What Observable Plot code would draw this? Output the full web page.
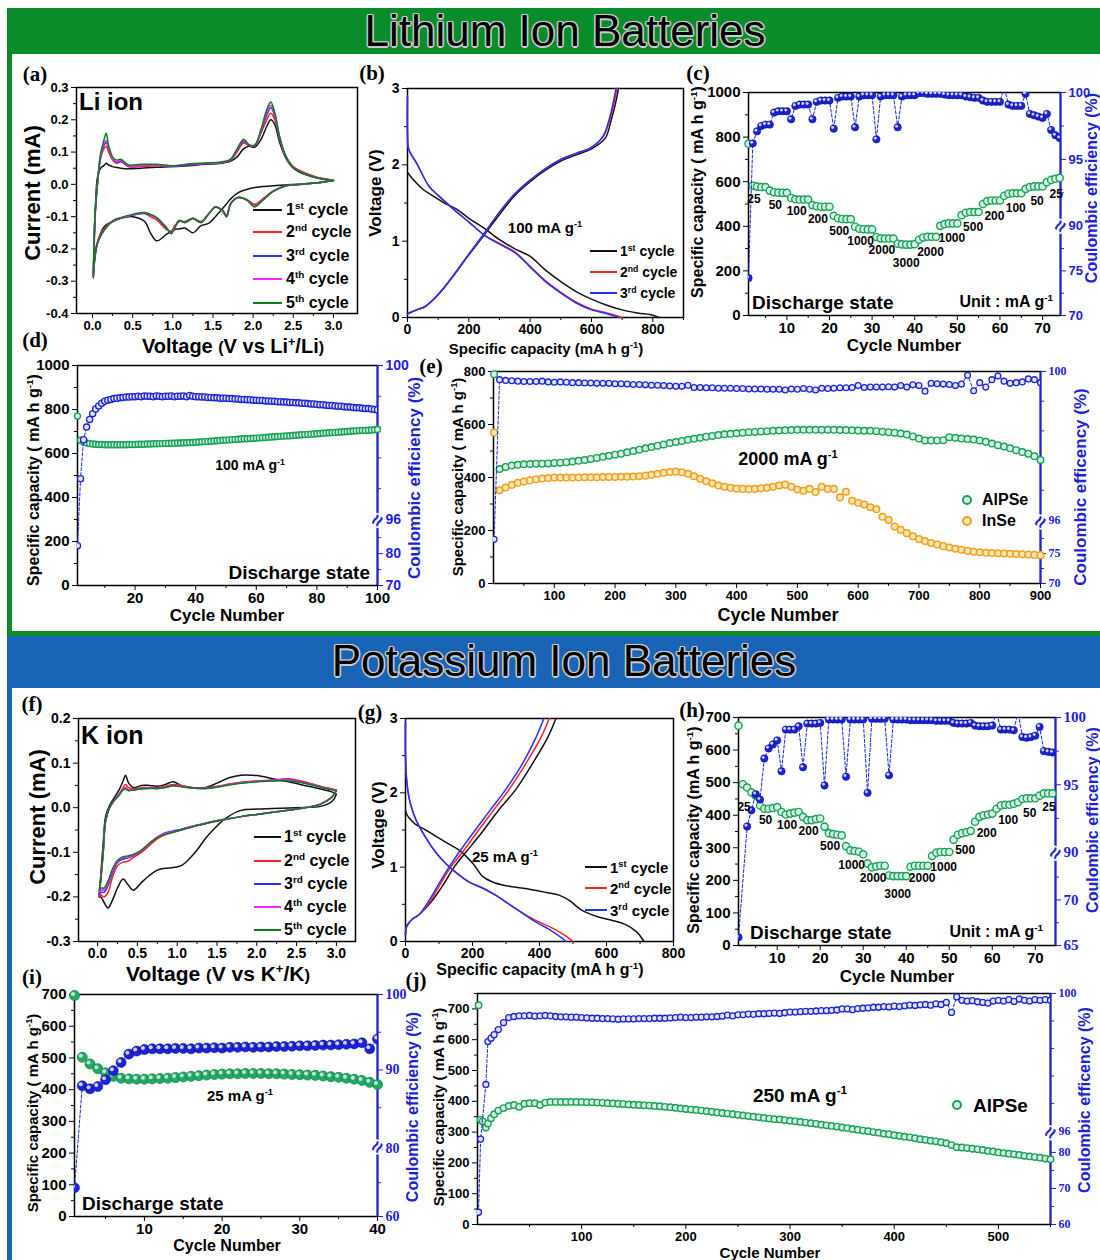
<!DOCTYPE html>
<html><head><meta charset="utf-8">
<script src="https://cdn.jsdelivr.net/npm/d3@7"></script>
<script src="https://cdn.jsdelivr.net/npm/@observablehq/plot@0.6"></script>
<style>
html,body{margin:0;padding:0;background:#fff;}
#page{position:relative;width:1100px;height:1260px;overflow:hidden;background:#fff;}
sup{font-size:0.62em;line-height:0;vertical-align:0.6em;}
</style></head><body><div id="page"></div>
<script>
// ---------------- DATA ----------------
// (a) Li CV
const aDnV=[3.0,2.8,2.6,2.4,2.25,2.12,2.02,1.93,1.82,1.72,1.67,1.62,1.53,1.45,1.35,1.25,1.15,1.08,1.02,0.98,0.92,0.8,0.72,0.65,0.5,0.35,0.25,0.15,0.08,0.04,0.01];
const aDn1=[0.012,0.005,0.001,-0.002,-0.004,-0.007,-0.01,-0.015,-0.025,-0.045,-0.06,-0.075,-0.1,-0.12,-0.128,-0.15,-0.135,-0.138,-0.14,-0.145,-0.155,-0.175,-0.15,-0.115,-0.1,-0.105,-0.115,-0.13,-0.165,-0.21,-0.28];
const aDn2=[0.012,0.005,0.0,-0.005,-0.02,-0.045,-0.062,-0.048,-0.04,-0.06,-0.095,-0.08,-0.07,-0.09,-0.115,-0.105,-0.115,-0.115,-0.13,-0.145,-0.14,-0.11,-0.1,-0.09,-0.095,-0.105,-0.115,-0.135,-0.165,-0.2,-0.29];
const aDn3=[0.012,0.005,0.0,-0.005,-0.022,-0.048,-0.068,-0.05,-0.04,-0.06,-0.1,-0.083,-0.07,-0.09,-0.118,-0.105,-0.118,-0.112,-0.135,-0.152,-0.135,-0.105,-0.095,-0.09,-0.095,-0.105,-0.115,-0.14,-0.17,-0.2,-0.285];
const aDn4=[0.012,0.005,0.0,-0.005,-0.022,-0.048,-0.068,-0.05,-0.041,-0.06,-0.1,-0.083,-0.07,-0.09,-0.118,-0.106,-0.118,-0.112,-0.136,-0.152,-0.134,-0.104,-0.094,-0.088,-0.094,-0.104,-0.114,-0.14,-0.17,-0.2,-0.285];
const aDn5=[0.012,0.005,0.0,-0.005,-0.022,-0.049,-0.07,-0.05,-0.041,-0.06,-0.1,-0.082,-0.07,-0.09,-0.118,-0.106,-0.118,-0.112,-0.137,-0.153,-0.134,-0.103,-0.093,-0.087,-0.093,-0.103,-0.113,-0.14,-0.17,-0.2,-0.285];
const aUpV=[0.01,0.03,0.06,0.1,0.14,0.17,0.2,0.25,0.3,0.35,0.45,0.6,0.8,1.0,1.2,1.4,1.6,1.72,1.8,1.88,1.95,2.02,2.1,2.17,2.22,2.27,2.33,2.4,2.5,2.65,2.8,3.0];
const aUp1=[-0.28,-0.12,0.02,0.05,0.058,0.065,0.06,0.055,0.052,0.05,0.048,0.05,0.053,0.055,0.058,0.062,0.065,0.072,0.085,0.11,0.118,0.115,0.14,0.18,0.2,0.185,0.13,0.085,0.05,0.03,0.02,0.013];
const aUp2=[-0.29,-0.1,0.0,0.08,0.11,0.118,0.1,0.075,0.065,0.07,0.055,0.055,0.058,0.056,0.06,0.064,0.067,0.075,0.1,0.128,0.12,0.12,0.16,0.2,0.22,0.2,0.14,0.09,0.055,0.035,0.022,0.013];
const aUp3=[-0.285,-0.1,0.0,0.085,0.12,0.13,0.11,0.078,0.068,0.072,0.055,0.058,0.06,0.055,0.06,0.064,0.067,0.076,0.105,0.133,0.122,0.12,0.165,0.215,0.238,0.21,0.145,0.09,0.052,0.032,0.02,0.013];
const aUp4=[-0.285,-0.1,0.0,0.09,0.125,0.135,0.112,0.08,0.07,0.075,0.057,0.058,0.06,0.057,0.062,0.065,0.068,0.077,0.107,0.136,0.122,0.12,0.168,0.225,0.245,0.215,0.145,0.09,0.052,0.032,0.02,0.013];
const aUp5=[-0.285,-0.1,0.0,0.095,0.135,0.158,0.12,0.085,0.075,0.078,0.06,0.062,0.062,0.058,0.063,0.066,0.069,0.078,0.11,0.14,0.122,0.122,0.172,0.232,0.255,0.222,0.148,0.092,0.052,0.032,0.02,0.013];
// (b) Li charge/discharge
const bDis1X=[0,20,50,80,120,160,200,250,300,350,400,450,500,550,600,650,700,750,800,820];
const bDis1Y=[1.9,1.8,1.68,1.6,1.5,1.42,1.3,1.17,1.02,0.9,0.8,0.62,0.47,0.34,0.24,0.16,0.1,0.06,0.03,0];
const bDis2X=[0,0,3,10,30,70,100,150,200,250,300,350,400,450,500,550,600,650,700];
const bDis2Y=[2.9,2.4,2.22,2.15,2.02,1.72,1.6,1.42,1.25,1.08,0.97,0.86,0.67,0.48,0.33,0.2,0.11,0.06,0.0];
const bDis3X=[0,0,3,10,30,70,100,150,200,250,300,350,400,450,500,550,600,650,690];
const bDis3Y=[2.9,2.4,2.22,2.15,2.02,1.72,1.6,1.42,1.25,1.08,0.96,0.85,0.66,0.47,0.32,0.19,0.1,0.05,0.0];
const bChg1X=[0,30,60,100,150,200,250,300,350,400,450,500,550,600,645,665,678,688];
const bChg1Y=[0.05,0.1,0.15,0.3,0.55,0.82,1.08,1.35,1.6,1.78,1.93,2.05,2.13,2.21,2.35,2.6,2.8,3.0];
const bChg2X=[0,30,60,100,150,200,250,300,350,400,450,500,550,600,640,660,673,683];
const bChg2Y=[0.05,0.1,0.15,0.3,0.55,0.83,1.1,1.38,1.62,1.8,1.95,2.07,2.15,2.23,2.38,2.6,2.8,3.0];
const bChg3X=[0,30,60,100,150,200,250,300,350,400,450,500,550,600,638,658,670,680];
const bChg3Y=[0.05,0.1,0.15,0.3,0.55,0.83,1.1,1.38,1.62,1.8,1.95,2.07,2.15,2.23,2.38,2.6,2.8,3.0];
// (c) Li rate
const cCap=[770,582,578,576,576, 560,553,551,550,550, 527,521,520,520,520, 495,490,488,488,488, 447,436,433,432,432, 398,389,387,386,386, 352,346,345,345,345, 322,319,318,318,320, 340,350,353,353,353, 402,410,413,413,413, 450,461,464,464,464, 500,513,516,516,516, 537,546,548,548,548, 568,576,579,579,579, 598,608,613,617];
const cCE=[74.2,96.2,97.1,97.5,97.6, 97.6,98.5,98.6,98.6,98.6, 98.0,99.0,99.1,99.1,99.1, 98.0,99.3,99.4,99.4,99.4, 97.3,99.6,99.7,99.7,99.7, 97.4,99.7,99.8,99.8,99.8, 96.5,99.7,99.8,99.8,99.8, 97.4,99.7,99.8,99.8,99.8, 99.95,99.95,99.9,99.9,99.9, 99.9,99.85,99.8,99.8,99.8, 99.8,99.7,99.65,99.6,99.6, 99.4,99.3,99.3,99.3,99.3, 100.4,99.1,99.0,99.0,99.0, 99.9,98.4,98.3,98.2,98.1, 98.4,97.2,96.8,96.6];
const rateLabels=["25","50","100","200","500","1000","2000","3000","2000","1000","500","200","100","50","25"];
// (d) Li 100 mA/g cycling
const dCap=[770,660,652,648,645,643,642,641,641,640, 640,640,640,640,640,640,640,641,641,641, 642,642,642,643,643,644,644,645,645,646, 646,647,647,648,648,649,649,650,650,651, 652,653,654,655,656,657,658,659,660,661, 662,663,664,665,666,667,667,668,669,670, 671,672,673,674,675,676,677,678,679,680, 681,682,683,684,685,686,687,688,689,690, 691,692,693,694,695,696,697,698,699,700, 701,702,703,704,705,705,706,707,708,709];
const dCE=[82.5,97.06,98.07,98.4,98.6,98.75,98.87,98.95,99.02,99.07, 99.1,99.12,99.14,99.15,99.16,99.17,99.18,99.18,99.19,99.19, 99.2,99.19,99.21,99.2,99.2,99.19,99.21,99.2,99.19,99.2, 99.2,99.21,99.19,99.2,99.2,99.21,99.19,99.22,99.2,99.19, 99.19,99.18,99.18,99.17,99.17,99.16,99.16,99.15,99.15,99.15, 99.14,99.14,99.13,99.13,99.12,99.12,99.11,99.11,99.1,99.1, 99.09,99.09,99.08,99.08,99.07,99.07,99.06,99.06,99.05,99.05, 99.04,99.04,99.03,99.03,99.02,99.02,99.01,99.0,99.0,98.99, 98.98,98.98,98.97,98.96,98.96,98.95,98.94,98.94,98.93,98.92, 98.92,98.91,98.9,98.9,98.89,98.88,98.88,98.87,98.86,98.85];
// (e) Li 2000 mA/g long cycling
const eCyc=[1,10,20,30,40,50,60,70,80,90,100,110,120,130,140,150,160,170,180,190,200,210,220,230,240,250,260,270,280,290,300,310,320,330,340,350,360,370,380,390,400,410,420,430,440,450,460,470,480,490,500,510,520,530,540,550,560,570,580,590,600,610,620,630,640,650,660,670,680,690,700,710,720,730,740,750,760,770,780,790,800,810,820,830,840,850,860,870,880,890,900];
const eAlPSe=[790, 432,440,445,448,450,451,452,452,453,455, 456,458,460,463,466,470,474,478,482,486, 490,495,500,505,510,515,520,525,530,534, 538,542,546,550,554,557,560,563,565,567, 569,571,572,574,575,576,577,578,579,580, 580,580,580,580,580,580,579,579,578,577, 576,576,575,573,571,569,566,562,555,547, 540,540,540,541,552,550,547,545,543,540, 535,528,522,517,510,503,496,490,480,466];
const eInSe=[570, 352,362,372,380,385,389,393,396,398,400, 400,400,400,400,401,401,401,402,402,402, 403,403,404,405,407,410,414,418,421,422, 420,414,405,395,386,378,370,365,361,358, 357,356,357,359,361,365,370,373,365,355, 350,357,345,365,357,357,325,346,312,305, 298,288,280,252,240,215,203,190,178,168, 160,153,147,141,136,131,127,123,120,118, 116,115,114,113,112,111,110,109,108,107];
const eCE=[77.4, 99.78,99.76,99.75,99.74,99.73,99.73,99.73,99.74,99.72,99.71, 99.72,99.71,99.7,99.7,99.69,99.69,99.68,99.68,99.68,99.67, 99.67,99.66,99.65,99.65,99.64,99.63,99.63,99.62,99.61,99.6, 99.6,99.63,99.57,99.57,99.56,99.56,99.55,99.55,99.55,99.54, 99.54,99.53,99.53,99.53,99.52,99.52,99.52,99.5,99.53,99.52, 99.54,99.52,99.5,99.55,99.54,99.55,99.56,99.56,99.57,99.62, 99.57,99.58,99.58,99.58,99.59,99.58,99.62,99.58,99.64,99.62, 99.47,99.68,99.67,99.66,99.65,99.62,99.66,99.9,99.48,99.7, 99.58,99.78,99.88,99.74,99.68,99.7,99.72,99.8,99.78,99.7];
// (f) K CV
const fDnV=[3.0,2.95,2.8,2.5,2.2,2.0,1.8,1.6,1.45,1.35,1.25,1.15,1.05,0.95,0.85,0.75,0.65,0.55,0.45,0.38,0.32,0.25,0.18,0.13,0.08,0.04,0.02];
const fDn1=[0.03,0.015,0.003,0.0,-0.002,-0.003,-0.006,-0.025,-0.05,-0.07,-0.095,-0.115,-0.13,-0.134,-0.136,-0.14,-0.152,-0.168,-0.185,-0.172,-0.16,-0.18,-0.21,-0.225,-0.212,-0.2,-0.2];
const fDn2=[0.04,0.025,0.008,-0.003,-0.01,-0.015,-0.02,-0.027,-0.032,-0.036,-0.04,-0.045,-0.05,-0.055,-0.06,-0.07,-0.085,-0.1,-0.112,-0.12,-0.122,-0.13,-0.16,-0.19,-0.2,-0.195,-0.2];
const fDn3=[0.04,0.025,0.008,-0.003,-0.01,-0.015,-0.02,-0.026,-0.031,-0.035,-0.039,-0.043,-0.048,-0.052,-0.056,-0.066,-0.08,-0.097,-0.108,-0.113,-0.115,-0.123,-0.15,-0.175,-0.19,-0.19,-0.195];
const fDn4=[0.04,0.025,0.008,-0.003,-0.01,-0.015,-0.02,-0.026,-0.031,-0.036,-0.04,-0.044,-0.05,-0.054,-0.058,-0.066,-0.08,-0.096,-0.106,-0.11,-0.112,-0.12,-0.145,-0.17,-0.185,-0.185,-0.19];
const fDn5=[0.038,0.025,0.008,-0.003,-0.01,-0.015,-0.02,-0.026,-0.031,-0.036,-0.04,-0.045,-0.05,-0.055,-0.06,-0.067,-0.08,-0.095,-0.105,-0.108,-0.11,-0.118,-0.14,-0.165,-0.18,-0.18,-0.185];
const fUpV=[0.02,0.04,0.07,0.1,0.15,0.2,0.27,0.32,0.35,0.39,0.45,0.55,0.65,0.75,0.85,0.95,1.05,1.2,1.35,1.5,1.65,1.8,2.0,2.2,2.4,2.6,2.8,2.95,3.0];
const fUp1=[-0.2,-0.15,-0.08,-0.02,0.005,0.02,0.04,0.06,0.073,0.055,0.045,0.05,0.05,0.048,0.052,0.058,0.05,0.045,0.045,0.055,0.067,0.073,0.072,0.065,0.058,0.05,0.042,0.035,0.03];
const fUp2=[-0.2,-0.16,-0.1,-0.03,0.0,0.015,0.03,0.045,0.052,0.045,0.042,0.045,0.045,0.045,0.048,0.052,0.05,0.045,0.044,0.048,0.053,0.057,0.06,0.062,0.065,0.058,0.048,0.042,0.04];
const fUp3=[-0.195,-0.16,-0.1,-0.03,0.0,0.015,0.03,0.042,0.045,0.04,0.04,0.043,0.044,0.043,0.046,0.05,0.048,0.044,0.043,0.047,0.052,0.056,0.059,0.061,0.063,0.056,0.047,0.041,0.04];
const fUp4=[-0.19,-0.16,-0.1,-0.03,0.0,0.014,0.03,0.042,0.045,0.04,0.04,0.043,0.044,0.043,0.046,0.05,0.048,0.044,0.043,0.047,0.052,0.056,0.059,0.061,0.062,0.056,0.047,0.041,0.04];
const fUp5=[-0.185,-0.16,-0.1,-0.03,0.0,0.014,0.028,0.04,0.042,0.038,0.04,0.042,0.043,0.043,0.045,0.049,0.047,0.044,0.043,0.046,0.051,0.055,0.058,0.06,0.06,0.055,0.046,0.04,0.038];
// (g) K charge/discharge
const gDis1X=[0,5,15,29,60,96,130,163,203,229,260,300,363,420,460,490,523,576,620,656,690,712];
const gDis1Y=[1.76,1.7,1.64,1.58,1.5,1.4,1.31,1.22,1.04,0.88,0.8,0.75,0.71,0.66,0.62,0.55,0.43,0.33,0.28,0.23,0.13,0.0];
const gDis2X=[0,0,3,8,15,30,60,90,120,150,190,230,270,310,350,390,430,470,500];
const gDis2Y=[2.95,2.5,2.2,2.0,1.85,1.65,1.4,1.2,1.05,0.93,0.8,0.72,0.62,0.5,0.38,0.28,0.2,0.1,0.0];
const gDis3X=[0,0,3,8,15,30,60,90,120,150,190,230,270,310,350,390,430,460,480];
const gDis3Y=[2.95,2.5,2.2,2.0,1.85,1.65,1.4,1.2,1.05,0.93,0.8,0.72,0.62,0.5,0.38,0.26,0.16,0.07,0.0];
const gChg1X=[0,3,10,20,40,80,115,145,180,225,275,330,380,425,449];
const gChg2X=[0,3,10,20,40,75,105,135,170,210,260,310,360,405,429];
const gChg3X=[0,3,10,20,40,70,100,130,160,200,250,300,350,390,413];
const gChgY=[0.1,0.2,0.25,0.3,0.36,0.55,0.78,1.0,1.2,1.45,1.75,2.05,2.4,2.75,3.0];
// (h) K rate
const hCap=[675,495,485,470,460, 430,420,420,422,425, 410,402,405,408,410, 395,385,385,388,390, 365,345,342,340,338, 305,292,290,288,280, 252,240,243,245,245, 215,213,213,213,213, 242,245,245,245,245, 275,285,287,287,287, 325,340,345,348,352, 380,395,400,402,405, 420,430,432,432,435, 440,450,452,452,452, 460,467,467,467];
const hCE=[65.9,null,91.9,93.1,94.3, 93.9,96.95,97.7,98.0,98.3, 96.0,99.1,99.1,99.1,99.35, 96.3,99.55,99.55,99.55,99.6, 94.95,99.85,99.85,99.85,99.85, 95.6,99.85,99.85,99.85,99.85, 94.4,99.9,99.9,99.9,99.9, 95.7,99.85,99.85,99.85,99.85, 99.8,99.8,99.8,99.8,99.8, 99.8,99.75,99.75,99.75,99.75, 99.6,99.55,99.55,99.55,99.6, 99.4,99.35,99.35,99.35,99.4, 100.4,99.1,99.1,99.1,99.05, 100.4,98.55,98.5,98.55,98.65, 99.3,97.5,97.45,97.4];
// (i) K 25 mA/g cycling
const iCap=[697,502,481,466,453,442,436,434,433,433, 434,435,436,438,440,442,444,446,448,449, 450,450,451,451,451,450,450,449,448,447, 446,445,443,441,439,436,433,429,423,416];
const iCE=[68.5,87.9,87.5,87.8,88.7,89.9,91.0,92.1,92.5,92.7, 92.8,92.8,92.8,92.85,92.85,92.8,92.9,92.9,92.95,92.9, 93.0,93.0,93.05,93.0,93.05,93.05,93.1,93.1,93.15,93.2, 93.2,93.25,93.3,93.3,93.35,93.4,93.45,93.6,92.8,94.1];
// (j) K 250 mA/g long cycling
const jCyc=[1,3,5,8,10,13,16,20,25,30,35,40,45,50,55,60,65,70,75,80,85,90,95,100, 105,110,115,120,125,130,135,140,145,150, 155,160,165,170,175,180,185,190,195,200, 205,210,215,220,225,230,235,240,245,250, 255,260,265,270,275,280,285,290,295,300, 305,310,315,320,325,330,335,340,345,350, 355,360,365,370,375,380,385,390,395,400, 405,410,415,420,425,430,435,440,445,450, 455,460,465,470,475,480,485,490,495,500, 505,510,515,520,525,530,535,540,545,550];
const jCap=[712,340,335,315,328,345,358,370,378,385,388,382,392,394,394,388,396,398,398,398,398,398,398,398, 397,397,396,395,394,393,392,391,390,389, 388,387,386,385,384,382,381,379,377,375, 373,372,370,368,366,364,362,360,358,356, 354,352,350,348,346,344,342,341,339,337, 335,333,331,329,327,324,322,320,318,315, 313,310,308,305,303,300,298,295,293,290, 288,285,283,280,277,275,272,270,267,264, 258,251,250,248,246,244,242,239,237,234, 232,230,228,226,223,221,219,217,214,212];
const jCE=[63.4,83.7,null,97.35,98.6,98.7,98.8,98.95,99.15,99.3,99.33,99.35,99.35,99.36,99.34,99.35,99.36,99.35,99.33,99.32,99.32,99.31,99.31,99.3, 99.29,99.28,99.28,99.27,99.27,99.26,99.25,99.26,99.26,99.26, 99.27,99.27,99.27,99.28,99.28,99.28,99.29,99.3,99.31,99.3, 99.3,99.31,99.31,99.32,99.32,99.33,99.34,99.37,99.35,99.38, 99.38,99.4,99.39,99.41,99.41,99.42,99.43,99.42,99.44,99.46, 99.46,99.47,99.48,99.48,99.49,99.5,99.5,99.51,99.52,99.55, 99.55,99.53,99.56,99.57,99.58,99.6,99.6,99.62,99.61,99.63, 99.62,99.64,99.66,99.65,99.67,99.68,99.66,99.7,99.68,99.74, 99.45,99.9,99.8,99.78,99.79,99.76,99.74,99.72,99.78,99.8, 99.78,99.82,99.77,99.84,99.8,99.78,99.82,99.8,99.82,99.8];
// tick values
const cvXT=[0,0.5,1,1.5,2,2.5,3], cvXM=[0.25,0.75,1.25,1.75,2.25,2.75];
const aYT=[-0.4,-0.3,-0.2,-0.1,0,0.1,0.2,0.3], aYM=[-0.35,-0.25,-0.15,-0.05,0.05,0.15,0.25];
const fYT=[-0.3,-0.2,-0.1,0,0.1,0.2], fYM=[-0.25,-0.15,-0.05,0.05,0.15];
const cycleLabels=["1<sup>st</sup> cycle","2<sup>nd</sup> cycle","3<sup>rd</sup> cycle","4<sup>th</sup> cycle","5<sup>th</sup> cycle"];

// ---------------- HELPERS ----------------
const page=document.getElementById("page");
const SANS='"Liberation Sans", Arial, Helvetica, sans-serif';
const NARROW='"Liberation Sans Narrow", "Arial Narrow", "Liberation Sans", Arial, sans-serif';
const SERIF='"Liberation Serif", "Times New Roman", serif';
const BLUE="#1d22d8", GS="#16a158", GF="#d8f3e3", ORS="#f0a11c", ORF="#fde6b8";
const LIGREEN="#098c2a", KBLUE="#1a64b8";
const cvColors=["#111111","#ff2020","#2233ff","#ff22ff","#0a7d14"];

function box(x,y,w,h,css){const d=document.createElement("div");d.style.cssText=`position:absolute;left:${x}px;top:${y}px;width:${w}px;height:${h}px;`+(css||"");page.appendChild(d);return d;}
function txt(html,x,y,o={}){const d=document.createElement("div");const tr=o.anchor==="start"?"translate(0,-50%)":o.anchor==="end"?"translate(-100%,-50%)":"translate(-50%,-50%)";d.style.cssText=`position:absolute;left:${x}px;top:${y}px;white-space:nowrap;line-height:1;font-family:${o.font||SANS};font-size:${o.size||16}px;font-weight:${o.weight||"bold"};color:${o.color||"#000"};transform:${tr}${o.rot?` rotate(${o.rot}deg)`:""};`+(o.css||"");d.innerHTML=html;page.appendChild(d);return d;}

function mk(cfg){
  const [x0,y0,x1,y1]=cfg.frame;
  const p=Object.assign({l:55,r:45,t:12,b:30},cfg.pad||{});
  const svg=Plot.plot({
    width:x1-x0+p.l+p.r,height:y1-y0+p.t+p.b,
    marginLeft:p.l,marginRight:p.r,marginTop:p.t,marginBottom:p.b,
    x:{domain:cfg.xd},y:{domain:cfg.yd},
    style:{background:"transparent",fontFamily:cfg.font||SANS,fontSize:(cfg.fs||13)+"px",fontWeight:"bold",color:"#000",overflow:"visible"},
    marks:cfg.marks
  });
  svg.style.position="absolute";svg.style.left=(x0-p.l)+"px";svg.style.top=(y0-p.t)+"px";
  page.appendChild(svg);
}
function axes(o){
  const m=[
    Plot.axisX({ticks:o.xt,tickFormat:o.xf||(d=>String(d)),tickSize:5,tickPadding:2,label:null}),
    Plot.axisY({ticks:o.yt,tickFormat:o.yf||(d=>String(d)),tickSize:5,tickPadding:3,label:null})
  ];
  if(o.xm)m.push(Plot.axisX({ticks:o.xm,tickFormat:()=>"",tickSize:3,label:null}));
  if(o.ym)m.push(Plot.axisY({ticks:o.ym,tickFormat:()=>"",tickSize:3,label:null}));
  return m;
}
function ceAxis(o){
  const lab=new Map(o.major.map(v=>[o.map(v),String(v)]));
  return [
    Plot.ruleX([o.xmax],{stroke:BLUE,strokeWidth:2}),
    Plot.axisY({anchor:"right",ticks:o.major.map(o.map),tickFormat:d=>lab.get(d),color:BLUE,tickSize:5,tickPadding:3,label:null,fontSize:o.fs,fontFamily:o.font||SANS,fontWeight:"bold"}),
    Plot.axisY({anchor:"right",ticks:o.minor.map(o.map),tickFormat:()=>"",color:BLUE,tickSize:3,label:null}),
    Plot.text([o.brk],{x:()=>o.xmax,y:d=>d,text:()=>"≈",fill:BLUE,stroke:"white",strokeWidth:3,fontSize:20,fontWeight:"bold",rotate:-60})
  ];
}
const seq=arr=>arr.map((v,i)=>({c:i+1,v}));
const ceSeq=(arr,map)=>arr.map((v,i)=>({c:i+1,v:v==null?null:map(v)})).filter(d=>d.v!=null);
const pairs=(xs,ys)=>xs.map((x,i)=>({x,y:ys[i]}));
const loop=(dnV,dn,upV,up)=>pairs(dnV,dn).concat(pairs(upV,up));
const capDots=(d,r)=>Plot.dot(d,{x:"c",y:"v",r,fill:GF,stroke:GS,strokeWidth:1.4});
const ceSph=(d,r)=>[Plot.dot(d,{x:"c",y:"v",r,fill:BLUE,stroke:"#0b1388",strokeWidth:0.6,clip:true}),Plot.dot(d,{x:"c",y:"v",r:r*0.4,fill:"#fff",fillOpacity:0.8,dx:-r*0.3,dy:-r*0.3,clip:true})];
const ceRing=(d,r)=>Plot.dot(d,{x:"c",y:"v",r,fill:"#e3e6ff",stroke:BLUE,strokeWidth:1.3,clip:true});
const ceDash=d=>Plot.line(d,{x:"c",y:"v",stroke:BLUE,strokeWidth:1,strokeDasharray:"3,2",clip:true});
// rate-step labels: one per 5-cycle group, placed under the group's lowest point
function rateData(caps,labels){return labels.map((lab,g)=>{const s=g*5+1;const e=Math.min(s+4,caps.length);const vals=caps.slice(Math.max(s,2)-1,e);return {lab,g,c:(s+e)/2,v:d3.min(vals)};});}
function rateMarks(caps,dy){
  const rd=rateData(caps,rateLabels), mid=Math.floor(rateLabels.length/2);
  const o={x:"c",y:"v",text:"lab",fontSize:12,fontWeight:"bold"};
  return [
    Plot.text(rd.filter(d=>d.g<mid),{...o,dy,dx:-3}),
    Plot.text(rd.filter(d=>d.g===mid),{...o,dy:dy+7}),
    Plot.text(rd.filter(d=>d.g>mid),{...o,dy,dx:3})
  ];
}
function lineLegend(x0,x1,tx,ys,colors,labels,size,font){ys.forEach((y,i)=>{box(x0,y-1,x1-x0,2.2,`background:${colors[i]};`);txt(labels[i],tx,y,{size,anchor:"start",font});});}
function dotLegend(x,tx,ys,strokes,fills,labels,size){ys.forEach((y,i)=>{box(x-5,y-5,10,10,`border-radius:50%;box-sizing:border-box;border:2px solid ${strokes[i]};background:${fills[i]};`);txt(labels[i],tx,y,{size,anchor:"start"});});}

// ---------------- BACKGROUND ----------------
box(7,8,1100,628,`border:5px solid ${LIGREEN};border-right:none;box-sizing:border-box;`);
box(7,8,1100,46,`background:${LIGREEN};`);
box(7,636,1100,52,`background:${KBLUE};`);
box(7,688,5,572,`background:${KBLUE};`);
const halo="text-shadow:1.5px 0 0 #ccc,-1.5px 0 0 #ccc,0 1.5px 0 #ccc,0 -1.5px 0 #ccc,1px 1px 0 #ccc,-1px -1px 0 #ccc,1px -1px 0 #ccc,-1px 1px 0 #ccc;";
txt("Lithium Ion Batteries",565,31,{size:44,weight:"normal",css:halo});
txt("Potassium Ion Batteries",564,661,{size:44,weight:"normal",css:halo});

// ---------------- (a) ----------------
const aLoops=[loop(aDnV,aDn1,aUpV,aUp1),loop(aDnV,aDn2,aUpV,aUp2),loop(aDnV,aDn3,aUpV,aUp3),loop(aDnV,aDn4,aUpV,aUp4),loop(aDnV,aDn5,aUpV,aUp5)];
mk({frame:[76,87,357,313],xd:[-0.2,3.3],yd:[-0.4,0.3],fs:13,marks:[
  Plot.frame({strokeWidth:1.5}),
  ...axes({xt:cvXT,xm:cvXM,yt:aYT,ym:aYM,xf:d=>d.toFixed(1),yf:d=>d.toFixed(1)}),
  ...aLoops.map((L,k)=>Plot.line(L,{x:"x",y:"y",stroke:cvColors[k],strokeWidth:1.5,curve:"catmull-rom"}))
]});
// ---------------- (b) ----------------
mk({frame:[407,88,683,317],xd:[0,900],yd:[0,3],fs:14,marks:[
  Plot.frame({strokeWidth:1.5}),
  ...axes({xt:[0,200,400,600,800],xm:[100,300,500,700,900],yt:[0,1,2,3],ym:[0.5,1.5,2.5]}),
  Plot.line(pairs(bDis1X,bDis1Y),{x:"x",y:"y",stroke:cvColors[0],strokeWidth:1.5,curve:"catmull-rom"}),
  Plot.line(pairs(bChg1X,bChg1Y),{x:"x",y:"y",stroke:cvColors[0],strokeWidth:1.5,curve:"catmull-rom"}),
  Plot.line(pairs(bDis2X,bDis2Y),{x:"x",y:"y",stroke:cvColors[1],strokeWidth:1.5,curve:"catmull-rom"}),
  Plot.line(pairs(bChg2X,bChg2Y),{x:"x",y:"y",stroke:cvColors[1],strokeWidth:1.5,curve:"catmull-rom"}),
  Plot.line(pairs(bDis3X,bDis3Y),{x:"x",y:"y",stroke:cvColors[2],strokeWidth:1.5,curve:"catmull-rom"}),
  Plot.line(pairs(bChg3X,bChg3Y),{x:"x",y:"y",stroke:cvColors[2],strokeWidth:1.5,curve:"catmull-rom"})
]});
// ---------------- (c) ----------------
const mapC=v=>v<=80?(v-70)*40:400+(v-90)*60;
mk({frame:[748,92,1060,315],xd:[1,74.2],yd:[0,1000],fs:15,pad:{l:55,r:40},marks:[
  Plot.frame({strokeWidth:1.5}),
  ...axes({xt:[10,20,30,40,50,60,70],xm:[5,15,25,35,45,55,65],yt:[0,200,400,600,800,1000],ym:[100,300,500,700,900]}),
  ...ceAxis({map:mapC,major:[70,75,90,95,100],minor:[72.5,77.5,92.5,97.5],brk:400,xmax:74.2,fs:13}),
  capDots(seq(cCap),3.6),
  ceDash(ceSeq(cCE,mapC)),
  ...ceSph(ceSeq(cCE,mapC),3.7),
  ...rateMarks(cCap,12)
]});
// ---------------- (d) ----------------
const mapD=v=>v<=90?(v-70)*14.5:300+(v-96)*175;
mk({frame:[77,365,377,585],xd:[1,100],yd:[0,1000],fs:15,marks:[
  Plot.frame({strokeWidth:1.5}),
  ...axes({xt:[20,40,60,80,100],xm:[10,30,50,70,90],yt:[0,200,400,600,800,1000],ym:[100,300,500,700,900]}),
  ...ceAxis({map:mapD,major:[70,80,96,100],minor:[75,85,96.8,97.6,98.4,99.2],brk:295,xmax:100,fs:14}),
  capDots(seq(dCap),3),
  ceDash(ceSeq(dCE,mapD)),
  ceRing(ceSeq(dCE,mapD),3.1)
]});
// ---------------- (e) ----------------
const mapE=v=>v<=80?(v-70)*22.6:240+(v-96)*140;
mk({frame:[493,371,1040,583],xd:[0,900],yd:[0,800],fs:13,font:NARROW,marks:[
  Plot.frame({strokeWidth:1.5}),
  ...axes({xt:[100,200,300,400,500,600,700,800,900],xm:[50,150,250,350,450,550,650,750,850],yt:[0,200,400,600,800],ym:[100,300,500,700]}),
  ...ceAxis({map:mapE,major:[70,75,96,100],minor:[72.5,77.5,96.8,97.6,98.4,99.2],brk:232,xmax:900,fs:12,font:SERIF}),
  Plot.dot(eCyc.map((c,i)=>({c,v:eInSe[i]})),{x:"c",y:"v",r:3.3,fill:ORF,stroke:ORS,strokeWidth:1.5}),
  capDots(eCyc.map((c,i)=>({c,v:eAlPSe[i]})),3.3),
  ceDash(eCyc.map((c,i)=>({c,v:mapE(eCE[i])}))),
  ceRing(eCyc.map((c,i)=>({c,v:mapE(eCE[i])})),2.9)
]});
// ---------------- (f) ----------------
const fLoops=[loop(fDnV,fDn1,fUpV,fUp1),loop(fDnV,fDn2,fUpV,fUp2),loop(fDnV,fDn3,fUpV,fUp3),loop(fDnV,fDn4,fUpV,fUp4),loop(fDnV,fDn5,fUpV,fUp5)];
mk({frame:[78,718,355,941],xd:[-0.24,3.24],yd:[-0.3,0.2],fs:14,font:NARROW,marks:[
  Plot.frame({strokeWidth:1.5}),
  ...axes({xt:cvXT,xm:cvXM,yt:fYT,ym:fYM,xf:d=>d.toFixed(1),yf:d=>d.toFixed(1)}),
  ...fLoops.map((L,k)=>Plot.line(L,{x:"x",y:"y",stroke:cvColors[k],strokeWidth:1.5,curve:"catmull-rom"}))
]});
// ---------------- (g) ----------------
mk({frame:[405,718,673,941],xd:[0,800],yd:[0,3],fs:14,font:NARROW,marks:[
  Plot.frame({strokeWidth:1.5}),
  ...axes({xt:[0,200,400,600,800],xm:[100,300,500,700],yt:[0,1,2,3],ym:[0.5,1.5,2.5]}),
  Plot.line(pairs(gDis1X,gDis1Y),{x:"x",y:"y",stroke:cvColors[0],strokeWidth:1.5,curve:"catmull-rom"}),
  Plot.line(pairs(gChg1X,gChgY),{x:"x",y:"y",stroke:cvColors[0],strokeWidth:1.5,curve:"catmull-rom"}),
  Plot.line(pairs(gDis2X,gDis2Y),{x:"x",y:"y",stroke:cvColors[1],strokeWidth:1.5,curve:"catmull-rom"}),
  Plot.line(pairs(gChg2X,gChgY),{x:"x",y:"y",stroke:cvColors[1],strokeWidth:1.5,curve:"catmull-rom"}),
  Plot.line(pairs(gDis3X,gDis3Y),{x:"x",y:"y",stroke:cvColors[2],strokeWidth:1.5,curve:"catmull-rom"}),
  Plot.line(pairs(gChg3X,gChgY),{x:"x",y:"y",stroke:cvColors[2],strokeWidth:1.5,curve:"catmull-rom"})
]});
// ---------------- (h) ----------------
const mapH=v=>v<=75?(v-65)*28:287+(v-90)*41.3;
mk({frame:[738,717,1055,945],xd:[1,74.7],yd:[0,700],fs:15,pad:{l:55,r:40},marks:[
  Plot.frame({strokeWidth:1.5}),
  ...axes({xt:[10,20,30,40,50,60,70],xm:[5,15,25,35,45,55,65],yt:[0,100,200,300,400,500,600,700],ym:[50,150,250,350,450,550,650]}),
  ...ceAxis({map:mapH,major:[65,70,90,95,100],minor:[67.5,72.5,92.5,97.5],brk:283,xmax:74.7,fs:15,font:SERIF}),
  capDots(seq(hCap),3.6),
  ceDash(ceSeq(hCE,mapH)),
  ...ceSph(ceSeq(hCE,mapH),3.7),
  ...rateMarks(hCap,11)
]});
// ---------------- (i) ----------------
const mapI=v=>v<=80?(v-60)*10.65:224+(v-80)*23.8;
mk({frame:[74,994,377,1216],xd:[1,40],yd:[0,700],fs:15,marks:[
  Plot.frame({strokeWidth:1.5}),
  ...axes({xt:[10,20,30,40],xm:[5,15,25,35],yt:[0,100,200,300,400,500,600,700],ym:[50,150,250,350,450,550,650]}),
  ...ceAxis({map:mapI,major:[60,80,90,100],minor:[70,85,95],brk:219,xmax:40,fs:14,font:SERIF}),
  Plot.dot(seq(iCap),{x:"c",y:"v",r:5,fill:"#22a966",stroke:"#11874a",strokeWidth:0.8}),
  Plot.dot(seq(iCap),{x:"c",y:"v",r:2,fill:"#fff",fillOpacity:0.75,dx:-1.5,dy:-1.5}),
  ceDash(ceSeq(iCE,mapI)),
  ...ceSph(ceSeq(iCE,mapI),5)
]});
// ---------------- (j) ----------------
const mapJ=v=>v<=85?(v-60)*11.7:304+(v-96)*111.5;
const jCEd=jCyc.map((c,i)=>({c,v:jCE[i]==null?null:mapJ(jCE[i])})).filter(d=>d.v!=null);
mk({frame:[477,993,1050,1224],xd:[0,550],yd:[0,750],fs:13,font:NARROW,marks:[
  Plot.frame({strokeWidth:1.5}),
  ...axes({xt:[100,200,300,400,500],xm:[50,150,250,350,450,550],yt:[0,100,200,300,400,500,600,700],ym:[50,150,250,350,450,550,650,750]}),
  ...ceAxis({map:mapJ,major:[60,70,80,96,100],minor:[65,75,96.8,97.6,98.4,99.2],brk:298,xmax:550,fs:12,font:SERIF}),
  capDots(jCyc.map((c,i)=>({c,v:jCap[i]})),3.2),
  ceDash(jCEd),
  ceRing(jCEd,3)
]});

// ---------------- TEXT OVERLAYS ----------------
const L=(s,x,y)=>txt(s,x,y,{font:SERIF,size:21});
L("(a)",35,74);L("(b)",372,73);L("(c)",698,73);L("(d)",35,340);L("(e)",431,366);
L("(f)",32,704);L("(g)",370,712);L("(h)",692,710);L("(i)",32,977);L("(j)",416,980);
// axis titles
txt("Current (mA)",33,193,{size:22,rot:-90});
txt("Voltage <span style='font-size:0.8em'>(</span>V vs Li<sup>+</sup>/Li<span style='font-size:0.8em'>)</span>",233,346,{size:20});
txt("Voltage (V)",375,193,{size:17,rot:-90});
txt("Specific capacity (mA h g<sup>-1</sup>)",546,348,{size:15});
txt("Specific capacity ( mA h g<sup>-1</sup>)",698,192,{size:16,rot:-90});
txt("Coulombic efficiency (%)",1092,188,{size:16,rot:-90,color:BLUE});
txt("Cycle Number",904,345,{size:17});
txt("Specific capacity ( mA h g<sup>-1</sup>)",34,480,{size:16,rot:-90});
txt("Coulombic efficiency (%)",414,478,{size:17,rot:-90,color:BLUE});
txt("Cycle Number",227,615,{size:17});
txt("Specific capacity ( mA h g<sup>-1</sup>)",457,477,{size:15,rot:-90});
txt("Coulombic efficency (%)",1080,487,{size:17,rot:-90,color:BLUE});
txt("Cycle Number",778,615,{size:18,font:NARROW});
txt("Current (mA)",38,817,{size:22,rot:-90});
txt("Voltage <span style='font-size:0.8em'>(</span>V vs K<sup>+</sup>/K<span style='font-size:0.8em'>)</span>",218,974,{size:21});
txt("Voltage (V)",378,825,{size:17,rot:-90,font:NARROW});
txt("Specific capacity (mA h g<sup>-1</sup>)",540,970,{size:16,font:NARROW});
txt("Specific capacity (mA h g<sup>-1</sup>)",694,830,{size:16,rot:-90});
txt("Coulombic efficency (%)",1093,820,{size:16,rot:-90,color:BLUE});
txt("Cycle Number",897,976,{size:17});
txt("Specific capacity ( mA h g<sup>-1</sup>)",32,1113,{size:15,rot:-90});
txt("Coulombic efficiency (%)",413,1107,{size:16,rot:-90,color:BLUE});
txt("Cycle Number",227,1246,{size:16});
txt("Specific capacity ( mA h g<sup>-1</sup>)",438,1107,{size:15,rot:-90});
txt("Coulombic efficency (%)",1085,1100,{size:16,rot:-90,color:BLUE});
txt("Cycle Number",770,1252,{size:15,font:NARROW});
// annotations
txt("Li ion",79,102,{size:24,anchor:"start"});
txt("100 mA g<sup>-1</sup>",545,227,{size:15});
txt("Discharge state",752,302,{size:19,anchor:"start"});
txt("Unit : mA g<sup>-1</sup>",1053,302,{size:16,anchor:"end"});
txt("100 mA g<sup>-1</sup>",250,465,{size:14});
txt("Discharge state",370,572,{size:19,anchor:"end"});
txt("2000 mA g<sup>-1</sup>",788,459,{size:18,font:NARROW});
txt("K ion",81,735,{size:25,anchor:"start"});
txt("25 mA g<sup>-1</sup>",505,856,{size:15,font:NARROW});
txt("Discharge state",750,932,{size:19,anchor:"start"});
txt("Unit : mA g<sup>-1</sup>",1043,932,{size:16,anchor:"end"});
txt("25 mA g<sup>-1</sup>",240,1095,{size:15});
txt("Discharge state",82,1203,{size:19,anchor:"start"});
txt("250 mA g<sup>-1</sup>",800,1095,{size:19});
// legends
lineLegend(253,282,286,[210,232,256,279,303],cvColors,cycleLabels,16);
lineLegend(590,617,620,[251,272,293],cvColors,cycleLabels,14);
lineLegend(254,281,284,[837,861,884,907,930],cvColors,cycleLabels,16,NARROW);
lineLegend(585,607,610,[867,888,910],cvColors,cycleLabels,15,NARROW);
dotLegend(967,982,[500,521],[GS,ORS],[GF,ORF],["AlPSe","InSe"],16);
dotLegend(957,973,[1105],[GS],[GF],["AlPSe"],19);
</script></body></html>
